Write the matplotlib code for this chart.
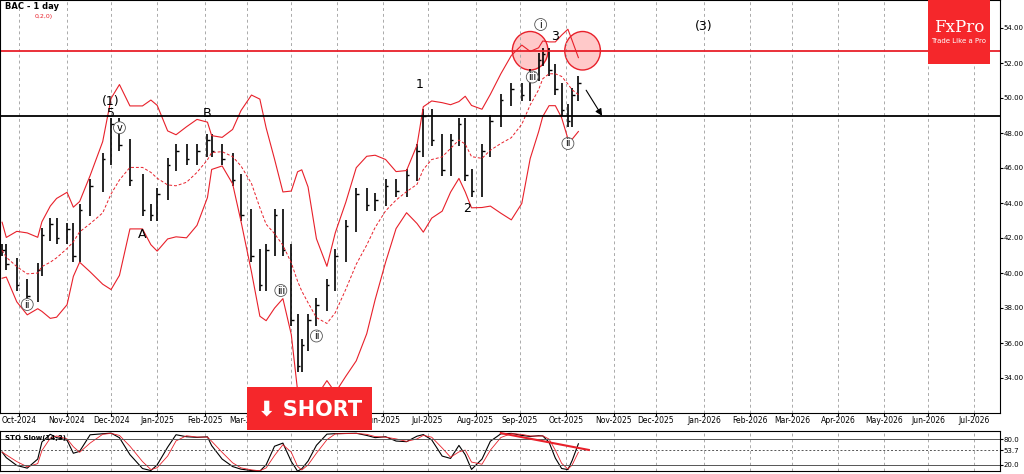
import matplotlib.pyplot as plt
import matplotlib.patches as mpatches
import numpy as np
import pandas as pd

# closing prices (trading-day index, price)
day = [0, 2, 7, 12, 17, 19, 23, 26, 31, 34, 37, 42, 48, 52, 56, 61, 67, 71, 74, 79, 83, 88, 93, 98, 100,
       105, 110, 114, 119, 123, 126, 130, 134, 138, 141, 143, 146, 150, 155, 159, 164, 169, 174, 178, 183, 188,
       193, 198, 201, 205, 210, 214, 218, 221, 224, 229, 233, 238, 243, 248, 252, 256, 258, 261, 264, 267, 270, 272, 275]
close = [41.3, 40.5, 39.3, 38.7, 40.2, 42.2, 42.8, 42.0, 42.5, 41.0, 43.6, 45.0, 46.5, 48.5, 47.3, 45.3, 43.6, 43.3,
         44.5, 46.2, 47.0, 46.5, 47.0, 47.6, 47.0, 46.5, 45.3, 43.3, 41.0, 39.3, 41.3, 43.3, 41.3, 37.3, 34.7, 35.9,
         37.3, 38.2, 39.3, 41.0, 42.7, 44.5, 43.9, 44.2, 45.0, 44.7, 45.6, 47.0, 49.0, 47.6, 45.9, 47.6, 48.5, 45.6,
         44.7, 47.0, 48.7, 49.9, 50.5, 50.2, 51.3, 52.2, 52.5, 51.6, 50.5, 49.3, 48.7, 50.2, 50.88]

red_level = 52.7
black_level = 48.95
start = "2024-09-19"

days = pd.bdate_range(start, "2026-08-31")
d = np.array(day)
c = pd.Series(close)
o = c.shift(1).fillna(c.iloc[0])
hi = np.maximum(o, c) + 0.35
lo = np.minimum(o, c) - 0.35

# bollinger bands and stochastic derived from the series
mid = c.rolling(6, min_periods=1).mean()
sd = c.rolling(6, min_periods=2).std().fillna(0.8)
up, dn = mid + 2.0 * sd, mid - 2.0 * sd
lmin = lo.rolling(4, min_periods=1).min()
hmax = hi.rolling(4, min_periods=1).max()
k = 100 * (c - lmin) / (hmax - lmin)
kk = k.rolling(2, min_periods=1).mean()
dd = kk.rolling(2, min_periods=1).mean()

fig = plt.figure(figsize=(10.24, 4.74), dpi=100)
ax = fig.add_axes([0.0, 1 - 413 / 474, 1000 / 1024, 413 / 474])
ax2 = fig.add_axes([0.0, 3 / 474, 1000 / 1024, 40 / 474])
xmax = 1000 / 2.1
month_starts = [i for i in range(1, len(days)) if days[i].month != days[i - 1].month and i < xmax]
for a in (ax, ax2):
    a.set_xlim(-1, xmax)
    a.yaxis.tick_right()
    for m in month_starts:
        a.axvline(m, color='#aaaaaa', lw=0.7, ls=(0, (3, 3)))
    a.tick_params(labelsize=5, length=2, pad=0.5)
ax.set_ylim(54 - (413 - 28) / 17.5, 54 + 28 / 17.5)
ax.set_yticks(np.arange(34, 55, 2))
ax.set_yticklabels([f"{v:.2f}" for v in np.arange(34, 55, 2)])
ax.set_xticks(month_starts)
ax.set_xticklabels([days[m].strftime("%b-%Y") for m in month_starts], fontsize=5.5)
ax2.set_xticks([])

ax.vlines(d, lo, hi, color='black', lw=1.2)
ax.hlines(c, d, d + 1.2, color='black', lw=1)
ax.plot(d, up, color='#e8202a', lw=0.8)
ax.plot(d, dn, color='#e8202a', lw=0.8)
ax.plot(d, mid, color='#e8202a', lw=0.7, ls=(0, (3, 2)))
ax.axhline(red_level, color='#e8202a', lw=1.3)
ax.axhline(black_level, color='black', lw=1.3)

for xi in (day[-9], day[-1] + 2):
    ax.add_patch(mpatches.Ellipse((xi, red_level), 17, 2.2,
                                  fc=(1, 0.3, 0.3, 0.3), ec='#e8202a', lw=1))
ax.annotate("", xy=(day[-1] + 12, black_level - 0.1), xytext=(day[-1] + 3, c.iloc[-1] - 0.3),
            arrowprops=dict(arrowstyle='-|>', color='black', lw=0.8))

circ = dict(boxstyle='circle,pad=0.1', fc='white', ec='#555555', lw=0.6)
labels = [(12, 38.2, 'ii', True), (52, 49.8, '(1)', False), (52, 49.1, '5', False), (98, 49.1, 'B', False),
          (67, 42.2, 'A', False), (199, 50.8, '1', False), (222, 43.7, '2', False), (264, 53.5, '3', False),
          (257, 54.2, 'i', True), (270, 47.4, 'ii', True), (335, 54.1, '(3)', False),
          (56, 48.3, 'v', True), (133, 39, 'iii', True), (150, 36.4, 'ii', True), (253, 51.2, 'iii', True)]
for x, y, t, cc in labels:
    ax.text(x, y, t, ha='center', va='center', fontsize=7 if cc else 9,
            bbox=circ if cc else None)

ax.text(0.005, 0.995, "BAC - 1 day", transform=ax.transAxes, fontsize=6, fontweight='bold', va='top')
ax.text(0.035, 0.965, "0,2,0)", transform=ax.transAxes, fontsize=4.5, color='#e8202a', va='top')

fig.patches.append(mpatches.Rectangle((928 / 1024, 1 - 64 / 474), 62 / 1024, 64 / 474,
                                      transform=fig.transFigure, fc='#f5272b', ec='none', zorder=5))
fig.text(959 / 1024, 1 - 28 / 474, "FxPro", color='white', fontsize=12, family='DejaVu Serif',
         ha='center', va='center', zorder=6)
fig.text(959 / 1024, 1 - 41 / 474, "Trade Like a Pro", color='white', fontsize=5, ha='center', va='center', zorder=6)
fig.patches.append(mpatches.Rectangle((247 / 1024, 1 - 430 / 474), 125 / 1024, 43 / 474,
                                      transform=fig.transFigure, fc='#f5272b', ec='none', zorder=5))
fig.text(310 / 1024, 1 - 409 / 474, "\u2b07 SHORT", color='white', fontsize=15, fontweight='bold',
         ha='center', va='center', zorder=6, family=['DejaVu Sans'])

ax2.plot(d, kk, color='black', lw=0.8)
ax2.plot(d, dd, color='#e8202a', lw=0.6)
ax2.set_ylim(5, 100)
for lv in (80, 20):
    ax2.axhline(lv, color='#555555', lw=0.7)
ax2.axhline(53.7, color='#555555', lw=0.7, ls=(0, (2, 2)))
ax2.set_yticks([80, 53.7, 20])
ax2.set_yticklabels(["80.0", "53.7", "20.0"])
ax2.plot([day[-12], day[-1] + 5], [95, 55], color='#e8202a', lw=1.5)
ax2.text(0.005, 0.9, "STO Slow(14,3)", transform=ax2.transAxes, fontsize=5, fontweight='bold', va='top')

fig.savefig("out.png", dpi=100)
